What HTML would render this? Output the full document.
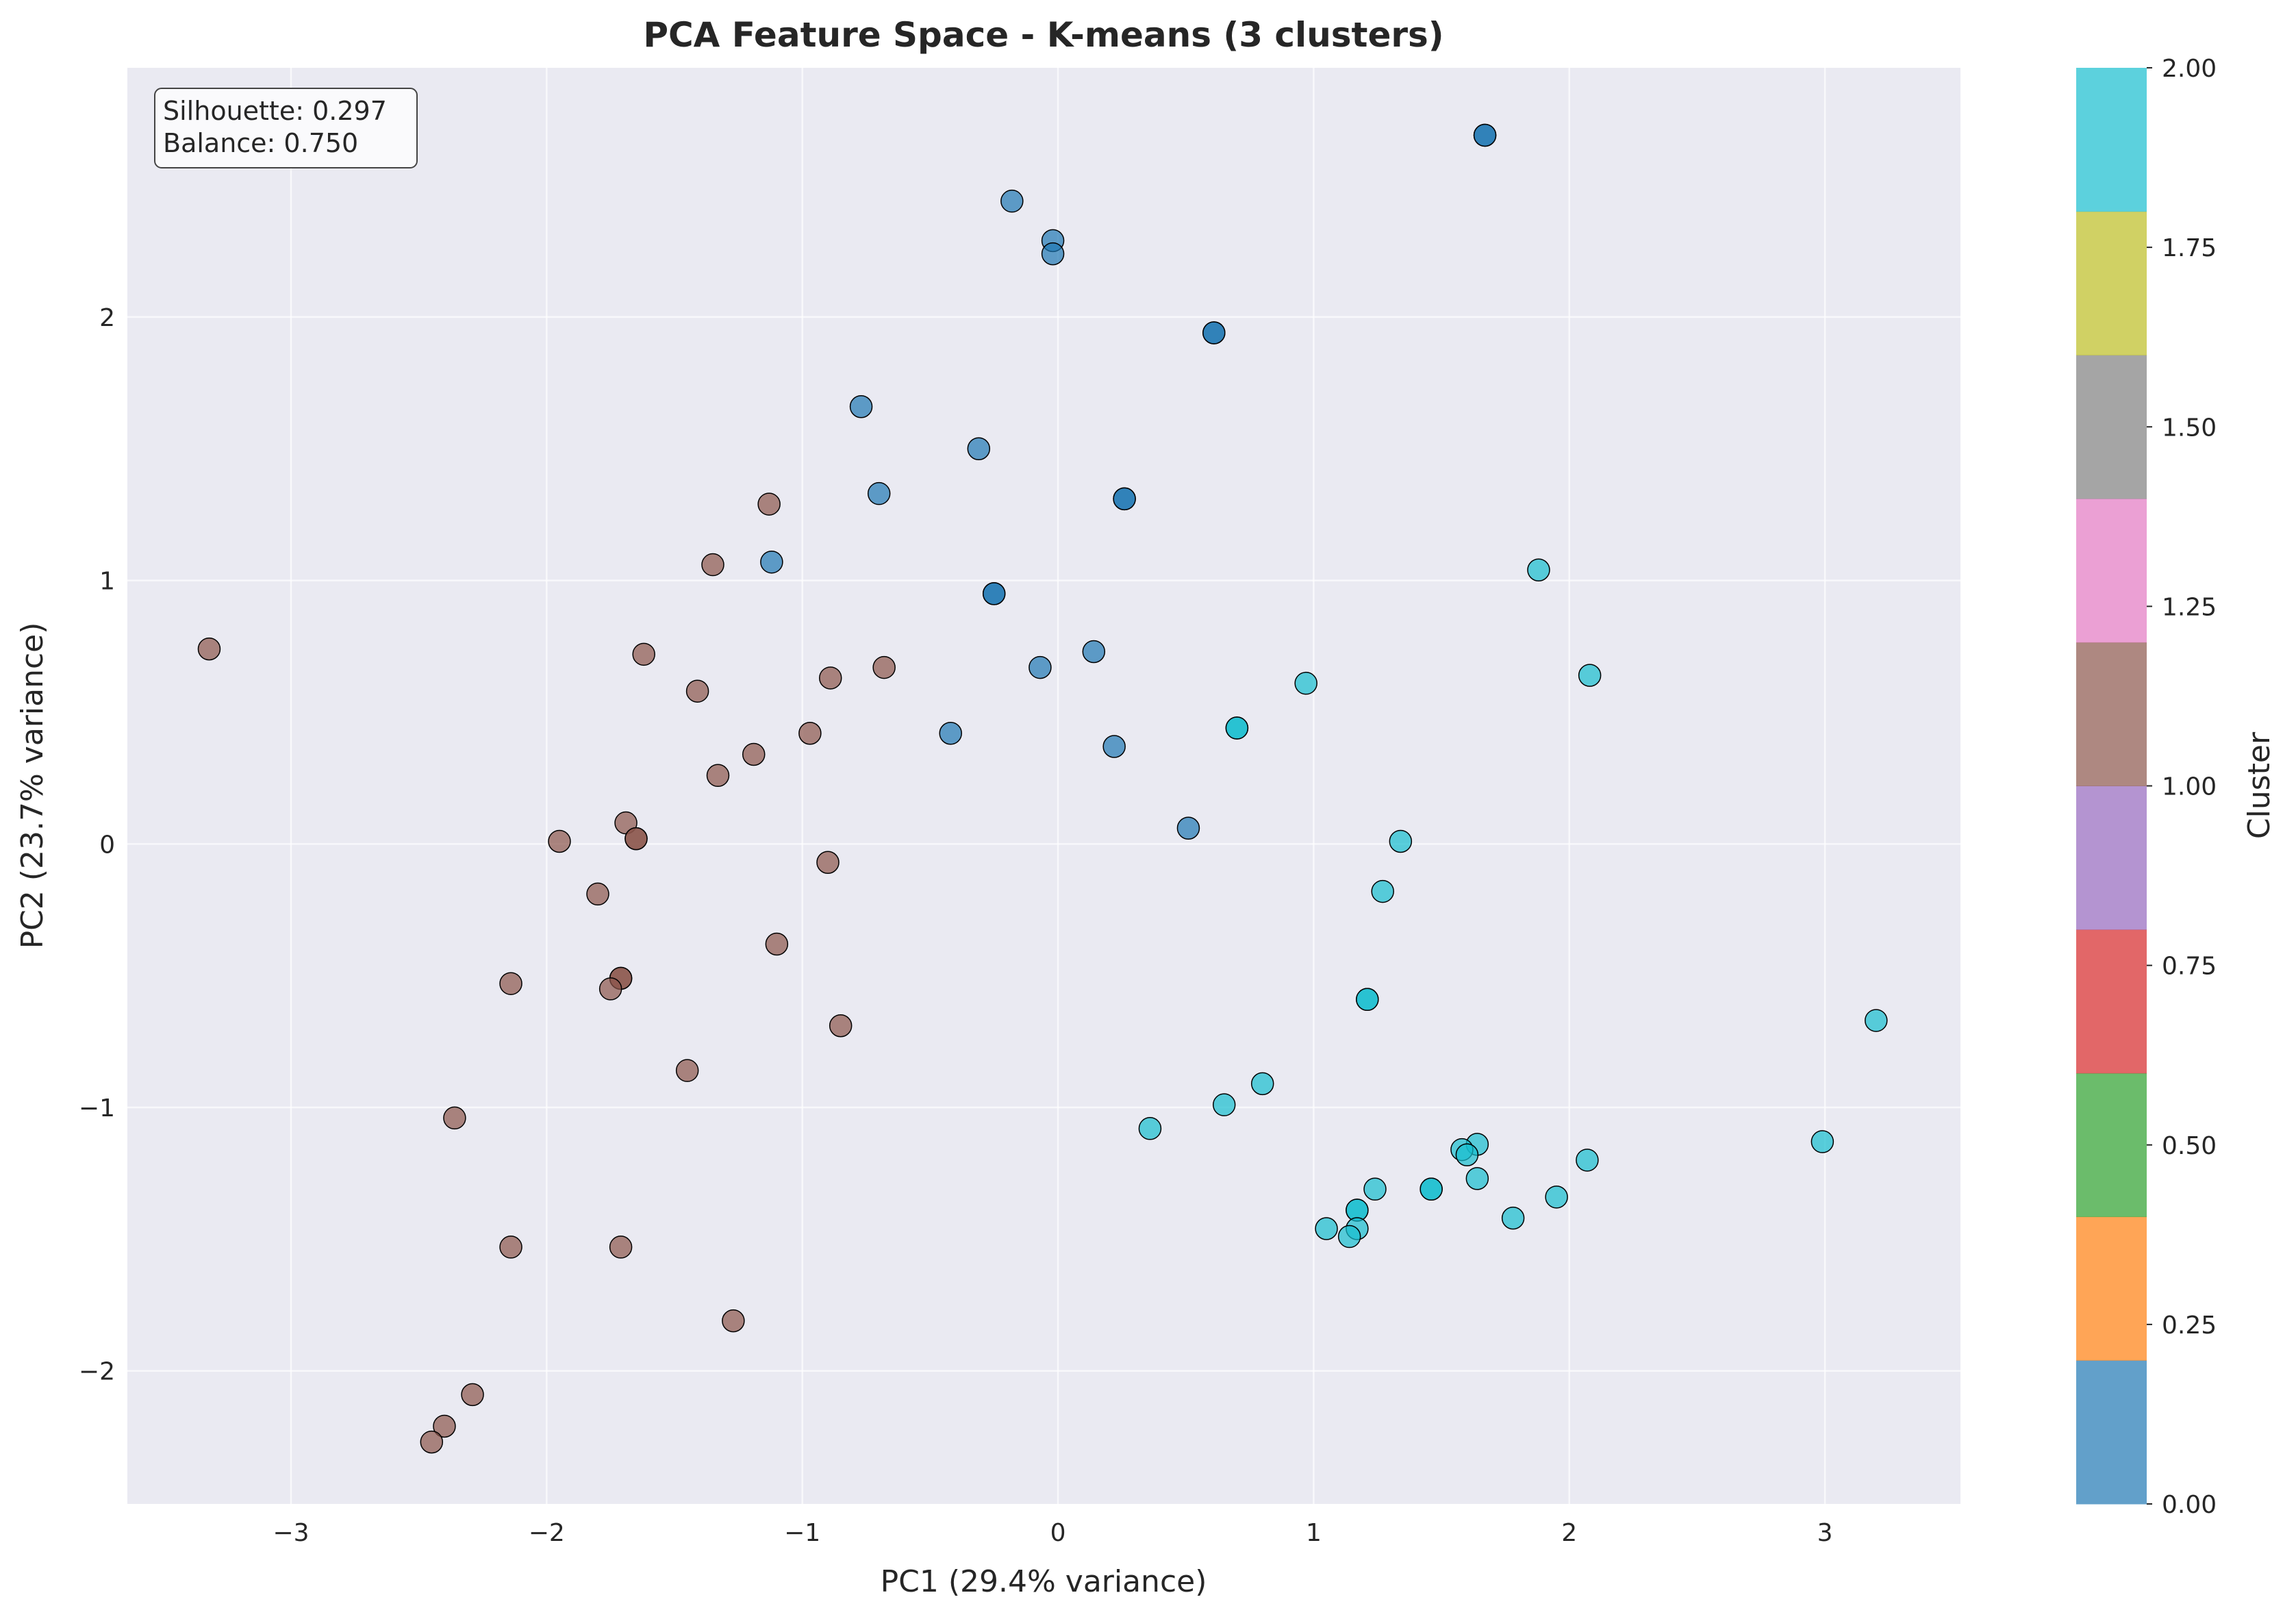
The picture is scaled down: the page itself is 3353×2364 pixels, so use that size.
<!DOCTYPE html>
<html><head><meta charset="utf-8"><style>
html,body{margin:0;padding:0;background:#fff;}
svg{display:block;font-family:"DejaVu Sans","Liberation Sans",sans-serif;}
</style></head><body>
<svg id="chart" width="3353" height="2364" viewBox="0 0 3353 2364" xmlns="http://www.w3.org/2000/svg">
<rect x="186" y="99" width="2677" height="2097" fill="#eaeaf2"/>
<g id="grid"></g>
<g id="points"></g>
<g id="ticks"></g>
<rect x="226" y="129" width="383" height="116" rx="10" fill="#fafafc" stroke="#444" stroke-width="2"/>
<text x="238" y="175" font-size="38" fill="#262626">Silhouette: 0.297</text>
<text x="238" y="222" font-size="38" fill="#262626">Balance: 0.750</text>
<text x="1524" y="68" font-size="50" font-weight="bold" text-anchor="middle" fill="#262626">PCA Feature Space - K-means (3 clusters)</text>
<text x="1524" y="2324" font-size="44" text-anchor="middle" fill="#262626">PC1 (29.4% variance)</text>
<text transform="translate(62,1147) rotate(-90)" font-size="44" text-anchor="middle" fill="#262626">PC2 (23.7% variance)</text>
<g id="cbar"></g>
<text transform="translate(3314,1147) rotate(-90)" font-size="44" text-anchor="middle" fill="#262626">Cluster</text>
</svg>
<script>
const clusters=["0","1","2"];
const c0x=[1.67,1.67,-0.18,-0.02,-0.02,0.61,0.61,-0.77,-0.31,-0.70,0.26,0.26,-1.12,-0.25,-0.25,0.14,-0.07,-0.42,0.22,0.51];
const c0y=[2.69,2.69,2.44,2.29,2.24,1.94,1.94,1.66,1.50,1.33,1.31,1.31,1.07,0.95,0.95,0.73,0.67,0.42,0.37,0.06];
const c1x=[-3.32,-1.13,-1.35,-1.62,-1.41,-0.89,-0.68,-0.97,-1.19,-1.33,-1.69,-1.65,-1.65,-1.95,-0.90,-1.80,-1.10,-2.14,-1.71,-1.71,-1.75,-0.85,-1.45,-2.36,-2.14,-1.71,-1.27,-2.29,-2.40,-2.45];
const c1y=[0.74,1.29,1.06,0.72,0.58,0.63,0.67,0.42,0.34,0.26,0.08,0.02,0.02,0.01,-0.07,-0.19,-0.38,-0.53,-0.51,-0.51,-0.55,-0.69,-0.86,-1.04,-1.53,-1.53,-1.81,-2.09,-2.21,-2.27];
const c2x=[1.88,2.08,0.97,0.70,0.70,1.34,1.27,1.21,1.21,3.20,0.80,0.65,0.36,2.99,1.64,1.58,1.60,2.07,1.64,1.46,1.46,1.24,1.95,1.17,1.17,1.78,1.17,1.05,1.14];
const c2y=[1.04,0.64,0.61,0.44,0.44,0.01,-0.18,-0.59,-0.59,-0.67,-0.91,-0.99,-1.08,-1.13,-1.14,-1.16,-1.18,-1.20,-1.27,-1.31,-1.31,-1.31,-1.34,-1.39,-1.39,-1.42,-1.46,-1.46,-1.49];
const xTicks=[-3,-2,-1,0,1,2,3];
const yTicks=[-2,-1,0,1,2];
const cbTicks=["0.00","0.25","0.50","0.75","1.00","1.25","1.50","1.75","2.00"];
const tab10=["#1f77b4","#ff7f0e","#2ca02c","#d62728","#9467bd","#8c564b","#e377c2","#7f7f7f","#bcbd22","#17becf"];
const NS="http://www.w3.org/2000/svg";
const X0=186,X1=2863,Y0=99,Y1=2196,xmin=-3.64,xmax=3.53,ymin=-2.505,ymax=2.946;
const sx=v=>X0+(v-xmin)/(xmax-xmin)*(X1-X0);
const sy=v=>Y1-(v-ymin)/(ymax-ymin)*(Y1-Y0);
function mk(t,a,p){const e=document.createElementNS(NS,t);for(const k in a)e.setAttribute(k,a[k]);p.appendChild(e);return e;}
const grid=document.getElementById('grid'),ticks=document.getElementById('ticks');
xTicks.forEach(v=>{
 const l=mk('line',{x1:sx(v),x2:sx(v),y1:Y0,y2:Y1,stroke:'#fff','stroke-width':2.5,opacity:0.7},grid);
 
 
 const t=mk('text',{x:sx(v),y:Y1+54,'font-size':36,'text-anchor':'middle',fill:'#262626'},ticks);
 t.textContent=v<0?'\u2212'+Math.abs(v):String(v);
 
 
});
yTicks.forEach(v=>{
 const l=mk('line',{x1:X0,x2:X1,y1:sy(v),y2:sy(v),stroke:'#fff','stroke-width':2.5,opacity:0.7},grid);
 
 
 const t=mk('text',{x:X0-18,y:sy(v)+13,'font-size':36,'text-anchor':'end',fill:'#262626'},ticks);
 t.textContent=v<0?'\u2212'+Math.abs(v):String(v);
 
 
});
const pts=document.getElementById('points');
const series=[[c0x,c0y,tab10[0]],[c1x,c1y,tab10[5]],[c2x,c2y,tab10[9]]];
series.forEach((s,si)=>{
 s[0].forEach((x,i)=>{
  const c=mk('circle',{cx:sx(x),cy:sy(s[1][i]),r:16,fill:s[2],'fill-opacity':0.7,stroke:'#000','stroke-width':1.5},pts);
  
  
 });
});
const cb=document.getElementById('cbar');
const CX=3032,CW=103,segH=(Y1-Y0)/10;
tab10.forEach((col,i)=>{
 const r=mk('rect',{x:CX,y:Y1-(i+1)*segH,width:CW,height:segH+0.5,fill:col,'fill-opacity':0.7},cb);
 
 
});
cbTicks.forEach(v=>{
 const y=Y1-(parseFloat(v)/2)*(Y1-Y0);
 mk('line',{x1:CX+CW,x2:CX+CW+8,y1:y,y2:y,stroke:'#262626','stroke-width':2},cb);
 const t=mk('text',{x:CX+CW+22,y:y+13,'font-size':36,fill:'#262626'},cb);
 t.textContent=v;
 
 
});
</script>
</body></html>
